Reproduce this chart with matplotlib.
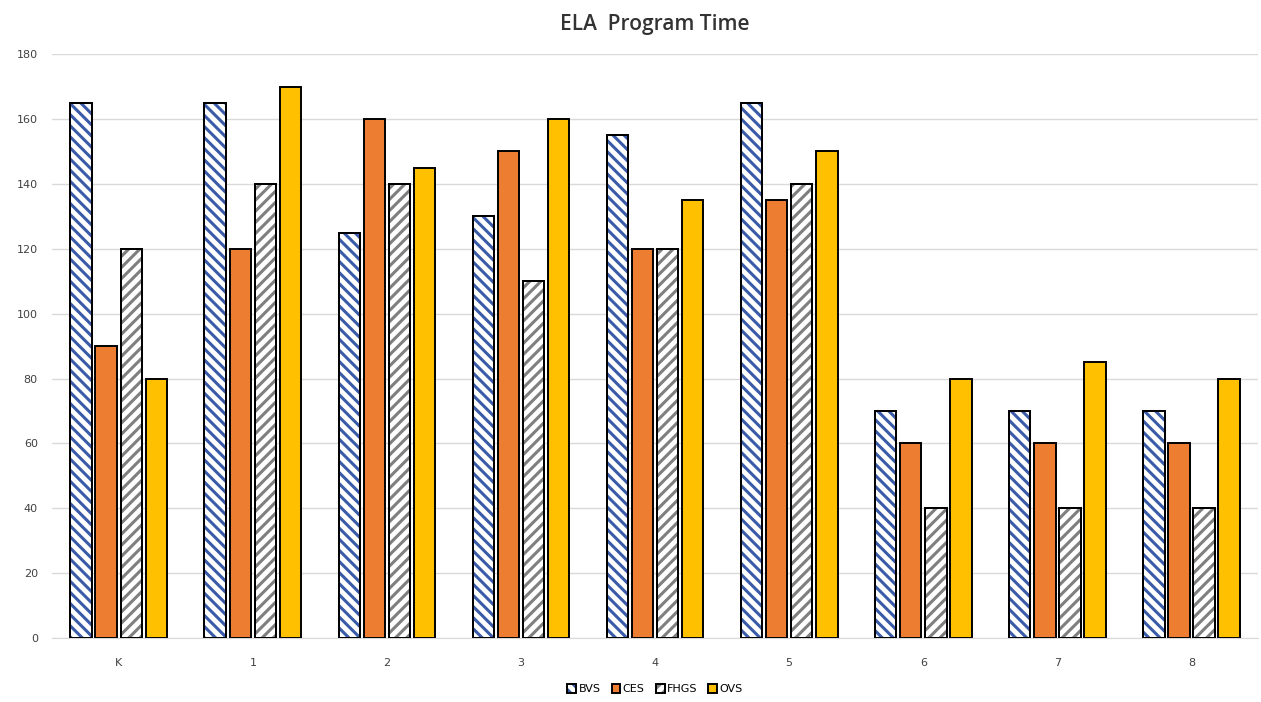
import numpy as np
import matplotlib.pyplot as plt
from matplotlib.colors import to_rgba

plt.rcParams['hatch.linewidth'] = 2.2

categories = ["K", "1", "2", "3", "4", "5", "6", "7", "8"]
bvs = [165, 165, 125, 130, 155, 165, 70, 70, 70]
ces = [90, 120, 160, 150, 120, 135, 60, 60, 60]
fhgs = [120, 140, 140, 110, 120, 140, 40, 40, 40]
ovs = [80, 170, 145, 160, 135, 150, 80, 85, 80]

series = [
    ("BVS", bvs, "white", "\\\\\\", "#3a5ba8"),
    ("CES", ces, "#ed7d31", None, None),
    ("FHGS", fhgs, "white", "///", "#7f7f7f"),
    ("OVS", ovs, "#ffc000", None, None),
]

fig = plt.figure(figsize=(12.61, 7.02), dpi=100)
ax = fig.add_axes([0.041, 0.091, 0.957, 0.832])

x = np.arange(len(categories))
width = 0.16
step = 0.187
offsets = (np.arange(4) - 1.5) * step

for (name, vals, color, hatch, hcolor), off in zip(series, offsets):
    bars = ax.bar(x + off, vals, width, color=color, edgecolor="black",
                  linewidth=1.4, label=name, zorder=3)
    if hatch:
        for b in bars:
            b.set_hatch(hatch)
            b._hatch_color = to_rgba(hcolor)
        # black outline on top of hatch
        ax.bar(x + off, vals, width, fill=False, edgecolor="black",
               linewidth=1.4, zorder=4)

ax.set_ylim(0, 180)
ax.set_xlim(-0.5, len(categories) - 0.5)
ax.set_yticks(range(0, 181, 20))
ax.set_xticks(x)
ax.set_xticklabels(categories)
ax.tick_params(axis="y", length=0, labelsize=8, colors="#404040", pad=10)
ax.tick_params(axis="x", length=0, labelsize=8, colors="#404040", pad=14)
ax.grid(axis="y", color="#d9d9d9", linewidth=1, zorder=0)
for s in ["top", "right", "left"]:
    ax.spines[s].set_visible(False)
ax.spines["bottom"].set_color("#d9d9d9")

ax.set_title("ELA  Program Time", fontsize=15, color="#333333", pad=17,
             family="Open Sans", fontweight="semibold")

leg = ax.legend(loc="upper center", bbox_to_anchor=(0.5, -0.062), ncol=4,
                frameon=False, fontsize=8, handlelength=0.8, handleheight=0.8,
                handletextpad=0.2, columnspacing=1.0)
for p, (name, vals, color, hatch, hcolor) in zip(leg.get_patches(), series):
    if hatch:
        p.set_hatch(hatch)
        p._hatch_color = to_rgba(hcolor)

fig.savefig("out.png", dpi=100, facecolor="white")
